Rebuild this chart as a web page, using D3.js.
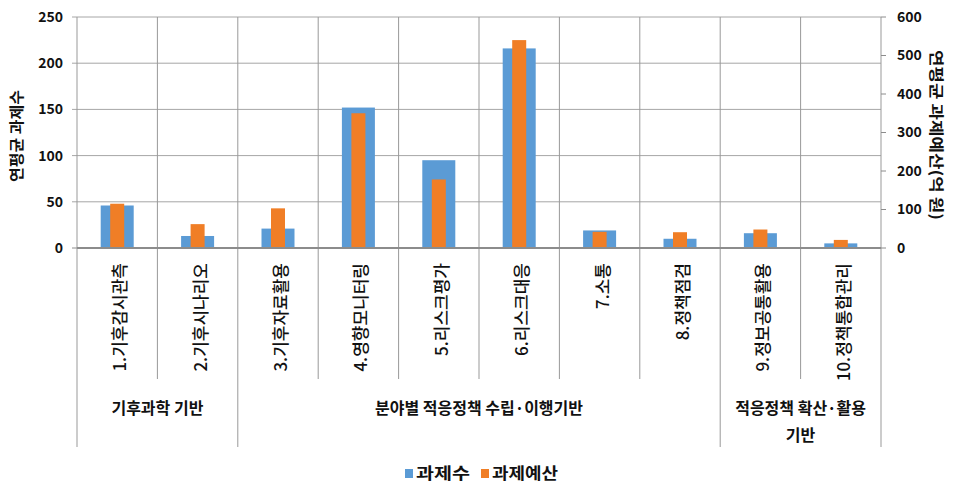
<!DOCTYPE html>
<html><head><meta charset="utf-8">
<script src="https://cdn.jsdelivr.net/npm/d3@7"></script>
<style>
html,body{margin:0;padding:0;background:#fff;}
svg{display:block;font-family:"Noto Sans CJK KR","Noto Sans",sans-serif;}
</style></head>
<body><svg id="c" width="956" height="491"></svg>
<script>
const categories = ["1.기후감시관측","2.기후시나리오","3.기후자료활용","4.영향모니터링","5.리스크평가","6.리스크대응","7.소통","8.정책점검","9.정보공통활용","10.정책통합관리"];
const taskCounts = [46, 13, 21, 152, 95, 216, 19, 10, 16, 5];
const taskBudgets = [115, 62, 103, 350, 178, 540, 42, 41, 48, 21];
const groups = [
  {label:["기후과학 기반"], start:0, end:2},
  {label:["분야별 적응정책 수립·이행기반"], start:2, end:8},
  {label:["적응정책 확산·활용","기반"], start:8, end:10}
];
const leftTicks = [0,50,100,150,200,250];
const rightTicks = [0,100,200,300,400,500,600];
const seriesNames = ["과제수","과제예산"];
const colors = ["#5B9BD5","#F07E26"];

const svg = d3.select("#c");
const L = 77, R = 881, T = 17, B = 248;
const x = d3.scaleBand().domain(categories).range([L,R]).padding(0);
const yL = d3.scaleLinear().domain([0,250]).range([B,T]);
const yR = d3.scaleLinear().domain([0,600]).range([B,T]);

// horizontal gridlines
svg.append("g").selectAll("line").data(leftTicks.filter(d=>d>0)).join("line")
  .attr("x1",L-5).attr("x2",R).attr("y1",d=>yL(d)).attr("y2",d=>yL(d))
  .attr("stroke","#a6a6a6").attr("stroke-width",1);
svg.append("line").attr("x1",L-5).attr("x2",L).attr("y1",B).attr("y2",B).attr("stroke","#8c8c8c");

// vertical category separators
const groupBounds = new Set();
groups.forEach(g=>{groupBounds.add(g.start);groupBounds.add(g.end);});
const seps = d3.range(0, categories.length+1);
svg.append("g").selectAll("line").data(seps).join("line")
  .attr("x1",i=> i<categories.length ? x(categories[i]) : R)
  .attr("x2",i=> i<categories.length ? x(categories[i]) : R)
  .attr("y1",T)
  .attr("y2",i=> groupBounds.has(i) ? 447 : 379)
  .attr("stroke","#999").attr("stroke-width",1);

// right axis ticks
svg.append("g").selectAll("line").data(rightTicks).join("line")
  .attr("x1",R).attr("x2",R+5).attr("y1",d=>yR(d)).attr("y2",d=>yR(d))
  .attr("stroke","#8c8c8c");

// bars
const bw = 33, ow = 14;
svg.append("g").selectAll("rect").data(taskCounts).join("rect")
  .attr("x",(d,i)=>x(categories[i])+x.bandwidth()/2-bw/2)
  .attr("width",bw)
  .attr("y",d=>yL(d)).attr("height",d=>B-yL(d))
  .attr("fill",colors[0]);
svg.append("g").selectAll("rect").data(taskBudgets).join("rect")
  .attr("x",(d,i)=>x(categories[i])+x.bandwidth()/2-ow/2)
  .attr("width",ow)
  .attr("y",d=>yR(d)).attr("height",d=>B-yR(d))
  .attr("fill",colors[1]);

// baseline
svg.append("line").attr("x1",L).attr("x2",R).attr("y1",B).attr("y2",B)
  .attr("stroke","#8c8c8c").attr("stroke-width",2);

// tick labels
svg.append("g").selectAll("text").data(leftTicks).join("text")
  .attr("x",63).attr("y",d=>yL(d)).attr("dy","0.35em")
  .attr("text-anchor","end").attr("font-size",14).attr("font-weight",700)
  .attr("fill","#111").text(d=>d);
svg.append("g").selectAll("text").data(rightTicks).join("text")
  .attr("x",897).attr("y",d=>yR(d)).attr("dy","0.35em")
  .attr("text-anchor","start").attr("font-size",14).attr("font-weight",700)
  .attr("fill","#111").text(d=>d);

// axis titles
svg.append("text").attr("transform","translate(17,136) rotate(-90)")
  .attr("text-anchor","middle").attr("dy","0.35em")
  .attr("textLength",92).attr("lengthAdjust","spacingAndGlyphs")
  .attr("font-size",15).attr("font-weight",700).attr("fill","#111").text("연평균 과제수");
svg.append("text").attr("transform","translate(936,135) rotate(90)")
  .attr("text-anchor","middle").attr("dy","0.35em")
  .attr("textLength",170).attr("lengthAdjust","spacingAndGlyphs")
  .attr("font-size",15).attr("font-weight",700).attr("fill","#111").text("연평균 과제예산(억 원)");

// category labels
svg.append("g").selectAll("text").data(categories).join("text")
  .attr("transform",d=>`translate(${x(d)+x.bandwidth()/2+3},263) rotate(-90)`)
  .attr("text-anchor","end").attr("dy","0.35em")
  .attr("font-size",17).attr("font-weight",500).attr("fill","#111").text(d=>d);

// group labels
groups.forEach(g=>{
  const cx = (x(categories[g.start]) + (g.end<categories.length ? x(categories[g.end]) : R))/2;
  g.label.forEach((ln,j)=>{
    svg.append("text").attr("x",cx).attr("y",408+j*27).attr("dy","0.35em")
      .attr("text-anchor","middle").attr("font-size",16).attr("font-weight",700)
      .attr("fill","#111").text(ln);
  });
});

// legend
const leg = svg.append("g");
const legX = [405, 481];
const legW = [54, 66];
seriesNames.forEach((n,i)=>{
  leg.append("rect").attr("x",legX[i]).attr("y",469).attr("width",8).attr("height",9).attr("fill",colors[i]);
  leg.append("text").attr("x",legX[i]+11).attr("y",473).attr("dy","0.35em")
    .attr("textLength",legW[i]).attr("lengthAdjust","spacingAndGlyphs")
    .attr("font-size",16).attr("font-weight",700).attr("fill","#111").text(n);
});
</script></body></html>
